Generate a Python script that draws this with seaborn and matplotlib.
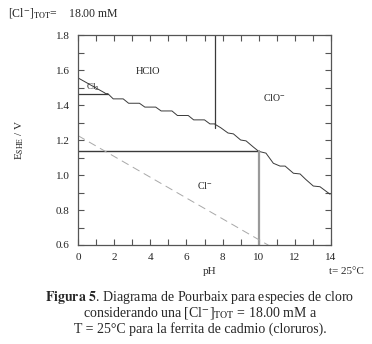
"""
Pourbaix diagram for chlorine species, [Cl-]TOT = 18.00 mM, T = 25 C.
"""

import matplotlib
matplotlib.use('Agg')
import matplotlib.pyplot as plt
import seaborn as sns
import pandas as pd

# === DATA ===
# Cl2 / HClO boundary (horizontal)
cl2_hclo_ph = [0.0, 1.65]
cl2_hclo_e = [1.465, 1.465]
# Cl2 / Cl- boundary
cl2_cl_ph = [0.0, 1.5]
cl2_cl_e = [1.555, 1.468]
# HClO / Cl- boundary (jagged)
hclo_cl_ph = [1.5, 1.65, 1.95, 2.5, 2.8, 3.4, 3.7, 4.3, 4.6, 5.2, 5.5, 6.1, 6.4, 7.0, 7.3, 7.58]
hclo_cl_e = [1.465, 1.465, 1.435, 1.435, 1.41, 1.41, 1.388, 1.388, 1.366, 1.366, 1.34, 1.34, 1.315, 1.315, 1.292, 1.292]
# HClO / ClO- boundary (vertical, pKa)
hclo_clo_ph = [7.58, 7.58]
hclo_clo_e = [1.80, 1.27]
# ClO- / Cl- boundary (jagged)
clo_cl_ph = [7.58, 7.9, 8.3, 8.6, 9.0, 9.3, 9.7, 10.0, 10.4, 10.81, 11.18, 11.46, 11.92, 12.29, 12.6, 13.02, 13.39, 13.95]
clo_cl_e = [1.29, 1.27, 1.24, 1.235, 1.2, 1.195, 1.16, 1.135, 1.125, 1.067, 1.051, 1.051, 1.01, 1.006, 0.975, 0.937, 0.933, 0.89]
# horizontal line and vertical line at pH 10
horiz_ph = [0.0, 10.0]
horiz_e = [1.135, 1.135]
vert_ph = [10.0, 10.0]
vert_e = [1.135, 0.60]
# water / O2 line (dashed)
water_ph = [0.0, 10.6]
water_e = [1.225, 0.595]

labels = ['HClO', 'ClO$^{-}$', 'Cl$_2$', 'Cl$^{-}$']
label_ph = [3.9, 10.85, 0.8, 7.0]
label_e = [1.59, 1.445, 1.50, 0.94]
label_size = [7.5, 7, 6.5, 7]

# === STYLE ===
sns.set_style('ticks')
plt.rcParams['font.family'] = ['Liberation Serif', 'DejaVu Serif']
plt.rcParams['mathtext.fontset'] = 'stix'

fig = plt.figure(figsize=(3.72, 3.44), dpi=100)
ax = fig.add_axes([78 / 372, 1 - 245 / 344, (331 - 78) / 372, (245 - 35) / 344])

dark = '#3a3a3a'


def seg(x, y, **kw):
    df = pd.DataFrame({'pH': x, 'E': y})
    sns.lineplot(data=df, x='pH', y='E', sort=False, estimator=None, ax=ax, **kw)


seg(cl2_hclo_ph, cl2_hclo_e, color=dark, lw=0.9)
seg(cl2_cl_ph, cl2_cl_e, color=dark, lw=0.7)
seg(hclo_cl_ph, hclo_cl_e, color=dark, lw=0.7)
seg(hclo_clo_ph, hclo_clo_e, color=dark, lw=0.9)
seg(clo_cl_ph, clo_cl_e, color=dark, lw=0.7)
seg(horiz_ph, horiz_e, color=dark, lw=1.0)
seg(vert_ph, vert_e, color='#9a9a9a', lw=1.6)
seg(water_ph, water_e, color='#a8a8a8', lw=0.7, linestyle=(0, (8, 5)))

for t, x, y, s in zip(labels, label_ph, label_e, label_size):
    ax.text(x, y, t, fontsize=s, ha='center', va='center', color='#222222')

ax.set_xlim(0, 14)
ax.set_ylim(0.6, 1.8)
ax.set_xticks(range(0, 15, 2))
ax.set_xticks(range(0, 15), minor=True)
ax.set_yticks([0.6, 0.8, 1.0, 1.2, 1.4, 1.6, 1.8])
ax.set_yticks([0.6 + 0.1 * i for i in range(13)], minor=True)
ax.set_yticklabels(['0.6', '0.8', '1.0', '1.2', '1.4', '1.6', '1.8'])
ax.tick_params(which='both', direction='in', top=True, right=True,
               labelsize=8, color='#555555', width=0.8, pad=6)
ax.tick_params(which='major', length=4)
ax.tick_params(which='minor', length=4)
for sp in ax.spines.values():
    sp.set_color('#555555')
    sp.set_linewidth(0.9)
ax.set_xlabel('')
ax.set_ylabel('')

# === TEXTS ===
fig.text(8 / 372, 1 - 13 / 344, r'[Cl$^{-}$]$_{\mathrm{TOT}}$=    18.00 mM', fontsize=8.5, va='center')
fig.text(20 / 372, 1 - 140 / 344, r'E$_{\mathrm{SHE}}$ / V', fontsize=8, rotation=90, ha='center', va='center')
fig.text(210 / 372, 1 - 272 / 344, 'pH', fontsize=8, ha='center', va='center')
fig.text(346 / 372, 1 - 272 / 344, 't= 25°C', fontsize=8, ha='center', va='center')

cx = 200 / 372
fig.text(cx, 1 - 297 / 344, r'$\mathbf{Figura\ 5}$. Diagrama de Pourbaix para especies de cloro',
         fontsize=10, ha='center', va='center')
fig.text(cx, 1 - 313 / 344, r'considerando una [Cl$^{-}$]$_{\mathrm{TOT}}$ = 18.00 mM a',
         fontsize=10, ha='center', va='center')
fig.text(cx, 1 - 329 / 344, 'T = 25°C para la ferrita de cadmio (cloruros).',
         fontsize=10, ha='center', va='center')

fig.savefig('out.png', dpi=100)
